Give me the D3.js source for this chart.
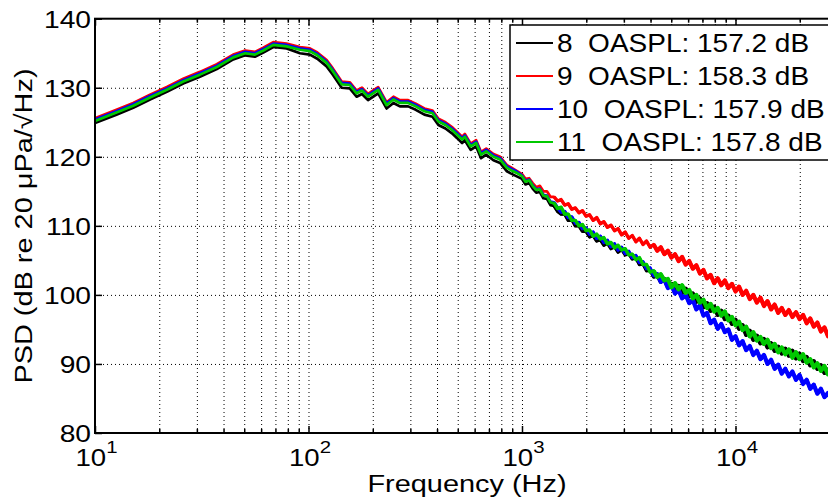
<!DOCTYPE html>
<html><head><meta charset="utf-8">
<script src="https://cdn.jsdelivr.net/npm/d3@7"></script>
<style>
html,body{margin:0;padding:0;background:#fff;}
svg{display:block;}
text{font-family:"Liberation Sans",Arial,Helvetica,sans-serif;fill:#000;white-space:pre;}
</style></head><body>
<svg id="chart" width="828" height="502"></svg>
<script>
// ---------------- DATA ----------------
const frequency = [
  10, 12.6, 15.1, 18.1, 21.7, 25.9, 31, 37.2, 44.4, 50.5,
  56.1, 61.4, 68.4, 79, 91.2, 101.5, 110, 121.6, 130, 143,
  156, 168, 178, 190, 212, 232, 250, 268, 293, 318,
  349, 381, 406, 438, 470, 497, 524, 540, 575, 610,
  643, 680, 735, 790, 850, 885, 940,
  1000, 1039, 1080, 1122, 1166, 1212, 1259, 1308, 1359, 1413,
  1468, 1525, 1585, 1647, 1711, 1778, 1848, 1920, 1995, 2073,
  2154, 2239, 2326, 2417, 2512, 2610, 2712, 2818, 2929, 3043,
  3162, 3286, 3415, 3548, 3687, 3831, 3981, 4137, 4299, 4467,
  4642, 4823, 5012, 5208, 5412, 5623, 5843, 6072, 6310, 6557,
  6813, 7079, 7356, 7644, 7943, 8254, 8577, 8913, 9261, 9624,
  10000, 10391, 10798, 11220, 11659, 12115, 12589, 13082, 13594, 14125,
  14678, 15252, 15849, 16469, 17113, 17783, 18478, 19201, 19953, 20733,
  21544, 22387, 23263, 24173, 25119, 26102, 27123, 28184
];
const psd8 = [
  124.9, 126.1, 127.1, 128.3, 129.4, 130.6, 131.6, 132.7, 134.1, 134.7,
  134.5, 135.1, 135.9, 135.7, 135.0, 134.8, 134.2, 133.1, 131.9, 130.0,
  129.9, 128.7, 129.1, 128.2, 129.2, 127.0, 127.8, 127.3, 127.3, 126.8,
  126.1, 125.8, 124.6, 124.1, 123.4, 122.7, 122.0, 122.4, 121.0, 121.5,
  119.8, 120.3, 119.5, 119.1, 117.9, 117.6, 117.2,
  116.8, 116.0, 116.2, 115.4, 114.8, 114.9, 114.0, 113.9, 113.0, 112.9,
  112.1, 111.7, 111.7, 110.8, 110.9, 110.0, 110.0, 109.2, 109.2, 108.4,
  108.6, 107.8, 108.0, 107.2, 107.5, 106.7, 107.0, 106.2, 106.6, 105.8,
  106.0, 105.2, 105.4, 104.4, 104.5, 103.5, 103.6, 102.6, 102.9, 101.9,
  102.3, 101.2, 101.6, 100.8, 101.3, 100.3, 100.9, 99.8, 100.2, 99.0,
  99.5, 98.2, 98.8, 97.7, 98.3, 97.1, 97.7, 96.5, 97.0, 95.8,
  96.4, 95.1, 95.6, 94.2, 94.8, 93.5, 94.1, 93.0, 93.6, 92.4,
  93.0, 91.9, 92.5, 91.5, 92.2, 91.2, 91.9, 90.8, 91.5, 90.4,
  91.0, 89.8, 90.4, 89.3, 89.8, 88.7, 89.2, 88.2
];
const psd9 = [
  125.6, 126.8, 127.8, 129.0, 130.1, 131.3, 132.3, 133.4, 134.8, 135.4,
  135.2, 135.8, 136.6, 136.4, 135.9, 135.7, 135.1, 134.0, 132.8, 130.9,
  130.8, 129.6, 130.0, 129.1, 130.1, 127.9, 128.7, 128.2, 128.2, 127.7,
  127.0, 126.7, 125.5, 125.0, 124.3, 123.6, 122.9, 123.3, 121.9, 122.4,
  120.7, 121.2, 120.4, 120.0, 118.8, 118.5, 118.0,
  117.5, 116.8, 116.9, 116.2, 115.6, 115.8, 115.0, 115.0, 114.2, 114.2,
  113.6, 113.8, 113.0, 113.2, 112.4, 112.6, 111.9, 112.2, 111.4, 111.6,
  110.8, 111.2, 110.3, 110.6, 109.8, 110.1, 109.3, 109.6, 108.7, 109.1,
  108.2, 108.6, 107.7, 108.2, 107.3, 107.8, 106.9, 107.3, 106.4, 106.9,
  105.9, 106.4, 105.4, 105.9, 104.9, 105.5, 104.4, 104.9, 103.8, 104.3,
  103.1, 103.6, 102.4, 102.9, 101.7, 102.4, 101.4, 102.1, 101.0, 101.6,
  100.5, 101.2, 100.0, 100.6, 99.4, 100.0, 98.9, 99.6, 98.4, 99.1,
  97.9, 98.6, 97.4, 98.1, 97.1, 97.8, 96.8, 97.5, 96.5, 97.1,
  95.9, 96.6, 95.4, 96.0, 94.7, 95.3, 94.0, 94.6
];
const psd10 = [
  125.4, 126.6, 127.6, 128.8, 129.9, 131.1, 132.1, 133.2, 134.6, 135.2,
  135.0, 135.6, 136.4, 136.2, 135.7, 135.5, 134.9, 133.8, 132.6, 130.7,
  130.6, 129.4, 129.8, 128.9, 129.9, 127.7, 128.5, 128.0, 128.0, 127.5,
  126.8, 126.5, 125.3, 124.8, 124.1, 123.4, 122.7, 123.1, 121.7, 122.2,
  120.5, 121.0, 120.2, 119.8, 118.6, 118.3, 117.9,
  117.3, 116.5, 116.7, 115.9, 115.3, 115.4, 114.5, 114.4, 113.5, 113.4,
  112.6, 112.0, 112.1, 111.2, 111.3, 110.4, 110.5, 109.6, 109.7, 108.8,
  109.1, 108.2, 108.5, 107.6, 107.9, 107.0, 107.4, 106.5, 106.9, 106.0,
  106.3, 105.4, 105.7, 104.7, 104.8, 103.8, 103.9, 102.8, 103.0, 101.9,
  102.2, 101.0, 101.4, 100.2, 100.7, 99.5, 100.0, 98.8, 99.3, 97.9,
  98.5, 97.0, 97.4, 95.9, 96.4, 95.1, 95.8, 94.6, 95.0, 93.5,
  94.0, 92.7, 93.3, 92.0, 92.6, 91.3, 91.9, 90.7, 91.3, 90.0,
  90.6, 89.3, 89.9, 88.6, 89.3, 88.2, 88.9, 87.7, 88.4, 87.1,
  87.7, 86.4, 87.0, 85.7, 86.4, 85.2, 85.8, 84.7
];
const psd11 = [
  125.2, 126.4, 127.4, 128.6, 129.7, 130.9, 131.9, 133.0, 134.4, 135.0,
  134.8, 135.4, 136.2, 136.0, 135.5, 135.3, 134.7, 133.6, 132.4, 130.5,
  130.4, 129.2, 129.6, 128.7, 129.7, 127.5, 128.3, 127.8, 127.8, 127.3,
  126.6, 126.3, 125.1, 124.6, 123.9, 123.2, 122.5, 122.9, 121.5, 122.0,
  120.3, 120.8, 120.0, 119.6, 118.4, 118.1, 117.7,
  117.2, 116.4, 116.6, 115.8, 115.2, 115.3, 114.4, 114.3, 113.4, 113.3,
  112.5, 112.7, 111.7, 111.7, 110.8, 110.8, 110.0, 110.2, 109.3, 109.4,
  108.5, 108.8, 108.1, 108.3, 107.4, 107.6, 106.8, 107.2, 106.5, 106.7,
  105.8, 105.9, 105.1, 105.4, 104.4, 104.4, 103.3, 103.5, 102.6, 103.0,
  102.1, 102.3, 101.1, 101.7, 100.8, 101.4, 100.3, 100.7, 99.5, 100.0,
  98.9, 99.3, 98.1, 98.7, 97.6, 98.1, 97.0, 97.6, 96.3, 96.8,
  95.6, 96.1, 94.9, 95.4, 94.0, 94.6, 93.4, 93.9, 92.9, 93.5,
  92.3, 92.9, 91.7, 92.4, 91.4, 92.1, 90.9, 91.7, 90.7, 91.4,
  90.2, 90.7, 89.5, 90.1, 89.0, 89.7, 88.5, 89.0
];
const seriesLabels = ["8  OASPL: 157.2 dB", "9  OASPL: 158.3 dB", "10  OASPL: 157.9 dB", "11  OASPL: 157.8 dB"];
const seriesColors = ["#000000", "#ff0000", "#0000ff", "#00c800"];
const yTicks = [80, 90, 100, 110, 120, 130, 140];
const xMajorTicks = [10, 100, 1000, 10000];
const xTickExponents = ["1", "2", "3", "4"];
const xLabel = "Frequency (Hz)";
const yLabel = "PSD (dB re 20 \u03bcPa/\u221aHz)";

// ---------------- LAYOUT ----------------
const W = 828, H = 502;
const plot = {left: 95, top: 18.7, right: 842.25, bottom: 433};
const xDomain = [10, 31622.8];
const yDomain = [80, 140];

const svg = d3.select("#chart");
svg.append("rect").attr("width", W).attr("height", H).attr("fill", "#fff");

const x = d3.scaleLog().domain(xDomain).range([plot.left, plot.right]);
const y = d3.scaleLinear().domain(yDomain).range([plot.bottom, plot.top]);

const xMinor = [];
xMajorTicks.forEach(d => { for (let m = 2; m <= 9; m++) { const v = d * m; if (v <= xDomain[1]) xMinor.push(v); } });

const plotH = plot.bottom - plot.top, plotW = plot.right - plot.left;

function clean(g) {
  g.attr("font-family", null).attr("font-size", null);
  g.select(".domain").remove();
  g.selectAll("line").attr("stroke", "#000");
}

// grid lines (dotted)
svg.append("g").attr("transform", `translate(0,${plot.bottom})`)
  .call(d3.axisBottom(x).tickValues(xMinor.concat(xMajorTicks.slice(1))).tickSize(-plotH).tickFormat(""))
  .call(clean)
  .call(g => g.selectAll("line").attr("stroke-width", 1).attr("stroke-dasharray", "1,3"));
svg.append("g").attr("transform", `translate(${plot.left},0)`)
  .call(d3.axisLeft(y).tickValues(yTicks.slice(1, -1)).tickSize(-plotW).tickFormat(""))
  .call(clean)
  .call(g => g.selectAll("line").attr("stroke-width", 1).attr("stroke-dasharray", "1,3"));

// data
svg.append("clipPath").attr("id", "clip").append("rect")
  .attr("x", plot.left).attr("y", plot.top).attr("width", plotW).attr("height", plotH);
const series = [psd8, psd9, psd10, psd11];
const line = d3.line().x(d => x(d[0])).y(d => y(d[1]));
const gData = svg.append("g").attr("clip-path", "url(#clip)");
series.forEach((vals, i) => {
  const pts = frequency.map((f, j) => [f, vals[j]]);
  gData.append("path").datum(pts).attr("d", line)
    .attr("fill", "none").attr("stroke", seriesColors[i])
    .attr("stroke-width", 2.7).attr("stroke-linejoin", "round");
  // noisier high-frequency part drawn as a wider band
  gData.append("path").datum(pts.filter(p => p[0] >= 1400)).attr("d", line)
    .attr("fill", "none").attr("stroke", seriesColors[i])
    .attr("stroke-width", 3.4).attr("stroke-linejoin", "round");
  gData.append("path").datum(pts.filter(p => p[0] >= 4000)).attr("d", line)
    .attr("fill", "none").attr("stroke", seriesColors[i])
    .attr("stroke-width", 4.2).attr("stroke-linejoin", "round");
});

// ticks (inward)
const gAx = svg.append("g");
gAx.append("g").attr("transform", `translate(0,${plot.bottom})`)
  .call(d3.axisBottom(x).tickValues(xMinor).tickSize(-4).tickFormat("")).call(clean)
  .call(g => g.selectAll("line").attr("stroke-width", 1.5));
gAx.append("g").attr("transform", `translate(0,${plot.bottom})`)
  .call(d3.axisBottom(x).tickValues(xMajorTicks).tickSize(-7).tickFormat("")).call(clean)
  .call(g => g.selectAll("line").attr("stroke-width", 1.5));
gAx.append("g").attr("transform", `translate(0,${plot.top})`)
  .call(d3.axisTop(x).tickValues(xMinor).tickSize(-4).tickFormat("")).call(clean)
  .call(g => g.selectAll("line").attr("stroke-width", 1.5));
gAx.append("g").attr("transform", `translate(0,${plot.top})`)
  .call(d3.axisTop(x).tickValues(xMajorTicks).tickSize(-7).tickFormat("")).call(clean)
  .call(g => g.selectAll("line").attr("stroke-width", 1.5));
gAx.append("g").attr("transform", `translate(${plot.left},0)`)
  .call(d3.axisLeft(y).tickValues(yTicks).tickSize(-7).tickFormat("")).call(clean)
  .call(g => g.selectAll("line").attr("stroke-width", 1.5));

// frame
svg.append("rect").attr("x", plot.left).attr("y", plot.top).attr("width", plotW).attr("height", plotH)
  .attr("fill", "none").attr("stroke", "#000").attr("stroke-width", 2);

// y tick labels
svg.append("g").attr("transform", `translate(${plot.left},0)`)
  .call(d3.axisLeft(y).tickValues(yTicks).tickSize(0).tickFormat(d3.format("d")))
  .call(clean)
  .call(g => g.selectAll("text")
    .attr("x", null).attr("dy", null)
    .attr("font-size", 23.5)
    .attr("text-anchor", "end")
    .attr("transform", "translate(-4,8.4) scale(1.2,1)"));

// x tick labels with superscripts
svg.append("g").attr("transform", `translate(0,${plot.bottom})`)
  .call(d3.axisBottom(x).tickValues(xMajorTicks).tickSize(0).tickFormat(""))
  .call(clean)
  .call(g => g.selectAll(".tick").each(function(d, i) {
    const t = d3.select(this).append("text")
      .attr("text-anchor", "middle")
      .attr("font-size", 23)
      .attr("transform", "translate(1,32.5) scale(1.2,1)");
    t.append("tspan").text("10");
    t.append("tspan").attr("dy", -12.5).attr("font-size", 17).text(xTickExponents[i]);
  }));

// axis titles
svg.append("text").attr("text-anchor", "middle").attr("font-size", 23.5)
  .attr("transform", "translate(467,491.5) scale(1.23,1)").text(xLabel);
svg.append("text").attr("text-anchor", "middle").attr("font-size", 24.5)
  .attr("transform", "translate(31.5,226) rotate(-90) scale(1.18,1)").text(yLabel);

// legend
const leg = {x: 510, y: 25, w: 340, h: 135, row0: 43, dy: 33};
svg.append("rect").attr("x", leg.x).attr("y", leg.y).attr("width", leg.w).attr("height", leg.h)
  .attr("fill", "#fff").attr("stroke", "#000").attr("stroke-width", 1.5);
const items = svg.append("g").selectAll("g").data(seriesLabels).join("g")
  .attr("transform", (d, i) => `translate(0,${leg.row0 + i * leg.dy})`);
items.append("line").attr("x1", 516).attr("x2", 553).attr("y1", 0).attr("y2", 0)
  .attr("stroke", (d, i) => seriesColors[i]).attr("stroke-width", 2);
items.append("text").attr("font-size", 25)
  .attr("transform", "translate(557,9) scale(1.12,1)").text(d => d);
</script>
</body></html>
